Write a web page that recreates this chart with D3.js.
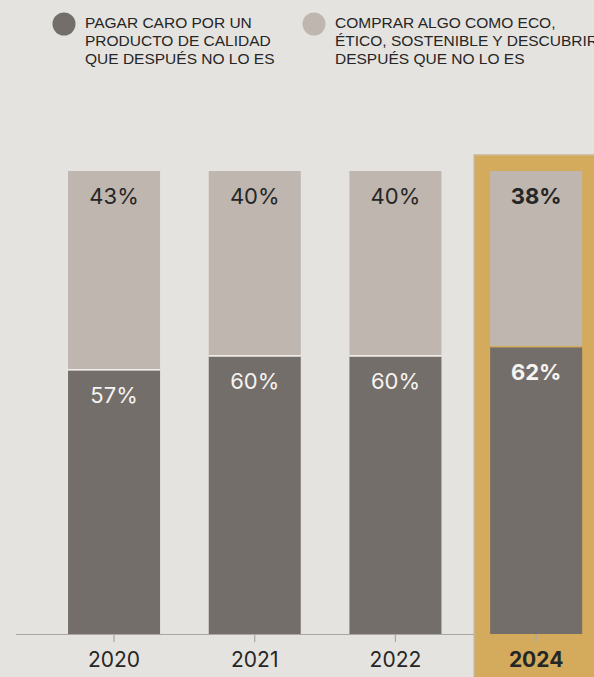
<!DOCTYPE html>
<html>
<head>
<meta charset="utf-8">
<script src="https://cdn.jsdelivr.net/npm/d3@7.9.0/dist/d3.min.js"></script>
<style>
  html, body { margin: 0; padding: 0; background: #e5e3df; overflow: hidden; }
  svg { display: block; }
</style>
</head>
<body>
<div id="chart"></div>
<script>
const years = ['2020', '2021', '2022', '2024'];
const pagarCaro = [57, 60, 60, 62];
const comprarEco = [43, 40, 40, 38];
const highlightYear = '2024';

const seriesNames = [
  ['PAGAR CARO POR UN', 'PRODUCTO DE CALIDAD', 'QUE DESPUÉS NO LO ES'],
  ['COMPRAR ALGO COMO ECO,', 'ÉTICO, SOSTENIBLE Y DESCUBRIR', 'DESPUÉS QUE NO LO ES']
];

const width = 594;
const height = 677;
const colors = {
  bg: '#e5e3df',
  dark: '#746e6a',
  light: '#bfb6b0',
  gold: '#d4ab5c',
  text: '#262626',
  axis: '#aaa6a1'
};

const svg = d3.select('#chart')
  .append('svg')
  .attr('width', width)
  .attr('height', height);

svg.append('rect')
  .attr('width', width)
  .attr('height', height)
  .attr('fill', colors.bg);

const data = years.map((year, i) => ({
  year,
  pagar: pagarCaro[i],
  comprar: comprarEco[i],
  highlight: year === highlightYear
}));

const x = d3.scaleBand()
  .domain(years)
  .range([43.7, 606.5])
  .paddingInner(0.346)
  .paddingOuter(0.173);

const y = d3.scaleLinear()
  .domain([0, 100])
  .range([634, 171]);

// highlight box behind the last bar
const hl = data.find(d => d.highlight);
svg.append('rect')
  .attr('x', x(hl.year) - 16)
  .attr('y', y(100) - 16)
  .attr('width', width)
  .attr('height', height)
  .attr('fill', colors.gold)
  .attr('stroke', '#ccb994')
  .attr('stroke-width', 1.5);

// axis line + ticks
svg.append('line')
  .attr('x1', 16)
  .attr('x2', x(hl.year) - 16)
  .attr('y1', y(0) + 0.5)
  .attr('y2', y(0) + 0.5)
  .attr('stroke', colors.axis)
  .attr('stroke-width', 1.2);

const axis = svg.append('g')
  .attr('transform', `translate(0, ${y(0)})`)
  .call(d3.axisBottom(x).tickSize(8).tickSizeOuter(0).tickFormat(''));
axis.select('.domain').remove();
axis.selectAll('.tick line').attr('stroke', colors.axis).attr('stroke-width', 1.2);

const bars = svg.append('g')
  .selectAll('g')
  .data(data)
  .join('g');

// bottom segment
bars.append('rect')
  .attr('x', d => x(d.year))
  .attr('width', x.bandwidth())
  .attr('y', d => y(d.pagar))
  .attr('height', d => y(0) - y(d.pagar))
  .attr('fill', colors.dark);

// top segment
bars.append('rect')
  .attr('x', d => x(d.year))
  .attr('width', x.bandwidth())
  .attr('y', y(100))
  .attr('height', d => y(d.pagar) - y(100) - 1)
  .attr('fill', colors.light);

// thin separator
bars.append('rect')
  .attr('x', d => x(d.year))
  .attr('width', x.bandwidth())
  .attr('y', d => y(d.pagar) - 1)
  .attr('height', 1.5)
  .attr('fill', d => d.highlight ? colors.gold : '#f1ede9');

const labelFont = 'Inter, "Noto Sans", sans-serif';

bars.append('text')
  .attr('x', d => x(d.year) + x.bandwidth() / 2)
  .attr('y', y(100) + 33)
  .attr('text-anchor', 'middle')
  .attr('font-family', labelFont)
  .attr('font-size', 22)
  .attr('font-weight', d => d.highlight ? 700 : 400)
  .attr('fill', colors.text)
  .text(d => d.comprar + '%');

bars.append('text')
  .attr('x', d => x(d.year) + x.bandwidth() / 2)
  .attr('y', d => y(d.pagar) + 33)
  .attr('text-anchor', 'middle')
  .attr('font-family', labelFont)
  .attr('font-size', 22)
  .attr('font-weight', d => d.highlight ? 700 : 400)
  .attr('fill', '#f6f3f0')
  .text(d => d.pagar + '%');

// year labels
svg.append('g')
  .selectAll('text')
  .data(data)
  .join('text')
  .attr('x', d => x(d.year) + x.bandwidth() / 2)
  .attr('y', 667)
  .attr('text-anchor', 'middle')
  .attr('font-family', labelFont)
  .attr('font-size', 21)
  .attr('font-weight', d => d.highlight ? 700 : 400)
  .attr('fill', colors.text)
  .text(d => d.year);

// legend
const legendX = [64, 314];
const legend = svg.append('g')
  .selectAll('g')
  .data(seriesNames)
  .join('g')
  .attr('transform', (d, i) => `translate(${legendX[i]}, 0)`);

legend.append('circle')
  .attr('cx', 0)
  .attr('cy', 24)
  .attr('r', 11.5)
  .attr('fill', (d, i) => i === 0 ? colors.dark : colors.light);

legend.append('text')
  .attr('font-family', '"Liberation Sans", Arial, sans-serif')
  .attr('font-size', 15.5)
  .attr('fill', colors.text)
  .selectAll('tspan')
  .data(d => d)
  .join('tspan')
  .attr('x', 21)
  .attr('y', (d, i) => 27.5 + i * 18.3)
  .text(d => d);
</script>
</body>
</html>
